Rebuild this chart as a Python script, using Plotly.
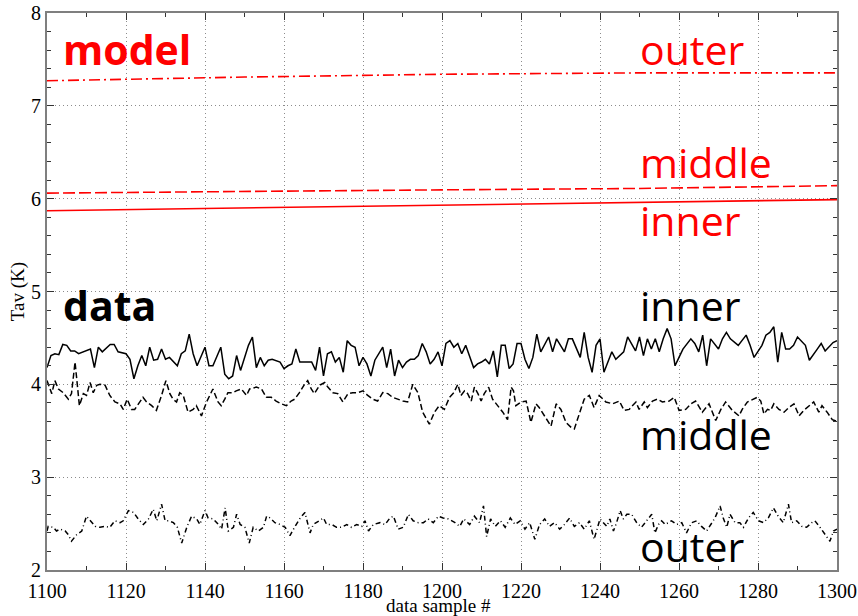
import plotly.graph_objects as go

# ---- data ----
model_x = [1100, 1150, 1200, 1250, 1300]
model_outer = [7.27, 7.31, 7.34, 7.355, 7.355]
model_middle = [6.06, 6.08, 6.095, 6.11, 6.14]
model_inner = [5.87, 5.90, 5.93, 5.955, 5.99]

inner_x = [1100, 1101, 1102, 1103, 1104, 1105, 1106, 1107, 1108, 1110, 1111, 1112, 1113, 1114, 1116, 1117, 1118,
           1120, 1121, 1122, 1123, 1124, 1125, 1126, 1127, 1128, 1129, 1130, 1131, 1133, 1134, 1135, 1136, 1137,
           1138, 1140, 1141, 1142, 1144, 1145, 1146, 1147, 1148, 1149, 1151, 1152, 1153, 1154, 1155, 1156, 1157,
           1159, 1160, 1161, 1162, 1163, 1164, 1165, 1167, 1168, 1169, 1170, 1171, 1172, 1173, 1174, 1175, 1176,
           1177, 1178, 1179, 1180, 1181, 1182, 1183, 1185, 1186, 1187, 1188, 1189, 1190, 1191, 1192, 1193, 1194,
           1195, 1196, 1197, 1198, 1199, 1200, 1201, 1202, 1203, 1204, 1205, 1206, 1208, 1209, 1210, 1211, 1212,
           1213, 1214, 1215, 1216, 1217, 1218, 1219, 1220, 1221, 1222, 1223, 1224, 1225, 1227, 1228, 1229, 1231,
           1232, 1233, 1235, 1236, 1237, 1238, 1239, 1240, 1241, 1243, 1244, 1246, 1247, 1249, 1250, 1251, 1252,
           1253, 1254, 1255, 1256, 1257, 1258, 1259, 1260, 1261, 1263, 1264, 1265, 1266, 1267, 1268, 1270, 1271,
           1272, 1273, 1275, 1277, 1278, 1279, 1281, 1282, 1283, 1284, 1285, 1286, 1287, 1288, 1289, 1290, 1292,
           1293, 1295, 1296, 1297, 1298, 1299, 1300]
inner_y = [4.18, 4.31, 4.33, 4.32, 4.43, 4.42, 4.36, 4.36, 4.33, 4.36, 4.38, 4.18, 4.40, 4.35, 4.43, 4.43, 4.35,
           4.33, 4.27, 4.06, 4.20, 4.31, 4.20, 4.40, 4.26, 4.27, 4.38, 4.27, 4.29, 4.20, 4.33, 4.36, 4.54, 4.33,
           4.20, 4.40, 4.20, 4.20, 4.40, 4.11, 4.06, 4.09, 4.31, 4.15, 4.42, 4.51, 4.18, 4.29, 4.20, 4.26, 4.27,
           4.24, 4.17, 4.20, 4.22, 4.38, 4.24, 4.24, 4.24, 4.15, 4.40, 4.09, 4.33, 4.35, 4.24, 4.29, 4.13, 4.47,
           4.42, 4.40, 4.20, 4.29, 4.22, 4.09, 4.26, 4.40, 4.18, 4.38, 4.09, 4.26, 4.18, 4.24, 4.27, 4.27, 4.31,
           4.44, 4.35, 4.22, 4.27, 4.35, 4.20, 4.44, 4.47, 4.40, 4.44, 4.33, 4.42, 4.18, 4.22, 4.24, 4.27, 4.22,
           4.36, 4.08, 4.42, 4.42, 4.17, 4.22, 4.44, 4.44, 4.27, 4.17, 4.29, 4.54, 4.35, 4.51, 4.35, 4.49, 4.35,
           4.49, 4.49, 4.29, 4.56, 4.29, 4.13, 4.42, 4.49, 4.13, 4.35, 4.27, 4.35, 4.51, 4.36, 4.51, 4.31, 4.49,
           4.38, 4.49, 4.35, 4.49, 4.60, 4.49, 4.20, 4.29, 4.38, 4.49, 4.44, 4.35, 4.53, 4.20, 4.49, 4.38, 4.49,
           4.56, 4.49, 4.42, 4.53, 4.42, 4.29, 4.42, 4.53, 4.56, 4.62, 4.24, 4.56, 4.38, 4.38, 4.42, 4.51, 4.42,
           4.26, 4.38, 4.44, 4.36, 4.40, 4.45, 4.47]

middle_x = [1100, 1100.3, 1101.2, 1102, 1102.9, 1104.1, 1105.4, 1106.2, 1107.1, 1108.2, 1109.2, 1110, 1110.9,
            1111.7, 1112.6, 1113.4, 1114.7, 1115.9, 1117.2, 1118.5, 1119.3, 1120.3, 1121.4, 1122.2, 1123.5,
            1124.3, 1125.2, 1126.5, 1127.7, 1129, 1130.1, 1131.1, 1131.9, 1132.8, 1133.6, 1134.5, 1135.7, 1137,
            1137.8, 1139.1, 1140.4, 1142, 1143.3, 1144.1, 1145, 1145.8, 1147.1, 1147.9, 1149.2, 1150.5, 1151.3,
            1153, 1154.3, 1155.5, 1156.8, 1158, 1159.3, 1160.6, 1161.8, 1162.7, 1163.9, 1165.2, 1166, 1166.9,
            1167.7, 1169, 1170.3, 1171.1, 1172.4, 1173.6, 1174.9, 1176.2, 1177.4, 1178.7, 1180, 1181.2, 1182.5,
            1183.7, 1185, 1186.3, 1187.5, 1188.8, 1190.1, 1191.3, 1192.6, 1193.9, 1195.1, 1196.8, 1198.1, 1199.3,
            1200.6, 1201.9, 1203, 1204, 1204.8, 1205.7, 1206.5, 1207.4, 1208.2, 1209.1, 1209.9, 1210.7, 1211.8,
            1212.8, 1214.1, 1215.4, 1216.6, 1217.5, 1218.1, 1218.7, 1220, 1221.3, 1222.5, 1223.8, 1224.6, 1225.9,
            1227.6, 1228.9, 1230.1, 1231.4, 1232.6, 1233.5, 1234.8, 1236, 1237.3, 1238.5, 1239.8, 1241.5, 1243.2,
            1244.9, 1246.1, 1247.4, 1248.2, 1249.1, 1249.9, 1251.2, 1252, 1253.3, 1254.5, 1255.8, 1257.5, 1258.8,
            1260, 1261.7, 1263, 1264.2, 1265.9, 1267.6, 1269.3, 1270.6, 1271.8, 1273.5, 1275.2, 1276, 1277.3,
            1278.6, 1279.8, 1280.7, 1281.5, 1282.4, 1283.2, 1284, 1285.3, 1286.6, 1287.8, 1289.1, 1290.4, 1291.6,
            1292.9, 1294.1, 1295.4, 1296.2, 1297.5, 1298.8, 1300]
middle_y = [4.04, 4.00, 3.90, 4.04, 3.95, 3.91, 3.84, 3.90, 4.24, 3.77, 3.90, 3.88, 4.02,
            3.91, 3.99, 4.00, 3.99, 3.88, 3.81, 3.79, 3.73, 3.84, 3.73, 3.73, 3.81,
            3.86, 3.81, 3.77, 3.72, 3.88, 4.04, 3.90, 3.84, 3.81, 3.91, 3.88, 3.70, 3.73,
            3.77, 3.66, 3.81, 3.95, 3.81, 3.77, 3.84, 3.91, 3.91, 3.93, 3.95, 3.88, 3.95,
            3.97, 3.95, 3.86, 3.86, 3.82, 3.79, 3.77, 3.82, 3.84, 3.91, 4.00, 4.04, 3.95,
            3.90, 3.99, 4.02, 3.97, 3.91, 3.90, 3.81, 3.90, 3.91, 3.91, 3.93, 3.88, 3.84,
            3.82, 3.91, 3.90, 3.86, 3.84, 3.82, 3.81, 4.00, 3.91, 3.70, 3.57, 3.70, 3.77,
            3.73, 3.86, 3.91, 4.00, 3.88, 3.93, 3.90, 3.82, 3.97, 3.90, 3.82, 3.90, 3.97,
            3.84, 3.77, 3.70, 3.62, 3.97, 3.93, 3.77, 3.81, 3.82, 3.59, 3.79, 3.75, 3.66,
            3.55, 3.79, 3.73, 3.59, 3.54, 3.52, 3.70, 3.84, 3.88, 3.75, 3.88, 3.81, 3.79,
            3.82, 3.72, 3.73, 3.77, 3.81, 3.73, 3.81, 3.75, 3.82, 3.84, 3.81, 3.82, 3.86,
            3.72, 3.73, 3.79, 3.82, 3.70, 3.79, 3.61, 3.73, 3.81, 3.72, 3.66, 3.73, 3.81,
            3.84, 3.86, 3.82, 3.68, 3.73, 3.72, 3.79, 3.73, 3.70, 3.75, 3.79, 3.66, 3.72,
            3.77, 3.81, 3.70, 3.77, 3.70, 3.62, 3.60]

outer_x = [1100, 1100.3, 1101.6, 1102.4, 1103.3, 1104.6, 1105.4, 1106.2, 1107.5, 1108.8, 1110, 1110.9, 1112.2,
           1113.4, 1114.7, 1115.9, 1117.2, 1118.5, 1119.3, 1120.6, 1121.9, 1123.1, 1124.4, 1125.7, 1126.9,
           1127.8, 1129, 1129.9, 1130.7, 1132, 1133, 1134.1, 1135.4, 1136.6, 1137.9, 1138.7, 1140, 1140.8,
           1142.1, 1143.4, 1144.2, 1145.1, 1145.9, 1147.2, 1148, 1148.9, 1150.1, 1151.2, 1152.2, 1153.5, 1154.8,
           1155.6, 1156.5, 1157.7, 1159, 1160.3, 1161.5, 1162.8, 1164.1, 1165.3, 1166.6, 1167.4, 1168.7, 1170,
           1170.8, 1172.1, 1173.3, 1174.6, 1175.9, 1177.1, 1178.4, 1179.7, 1180.5, 1181.4, 1182.6, 1184.3,
           1185.6, 1186.8, 1187.7, 1188.9, 1190.2, 1191.5, 1192.7, 1194, 1195.3, 1196.5, 1197.8, 1199.1, 1200.3,
           1201.6, 1203.3, 1204.5, 1205.5, 1207, 1208.2, 1209.5, 1210.5, 1211.3, 1212.3, 1213.5, 1214.8, 1216,
           1217.3, 1218.5, 1219.8, 1221, 1222.2, 1223.5, 1224.7, 1226, 1227.2, 1228.5, 1229.8, 1231, 1232.3,
           1233.5, 1234.8, 1236, 1237.3, 1238.5, 1240, 1240.8, 1241.7, 1242.5, 1243.4, 1244.2, 1245.1, 1245.9,
           1246.8, 1248, 1249.3, 1250.5, 1251.8, 1253.1, 1253.9, 1254.8, 1255.6, 1256.5, 1257.3, 1258.1, 1259.4,
           1260.7, 1261.9, 1263.2, 1264.5, 1265.7, 1267, 1268.3, 1269.1, 1270.4, 1271.2, 1272.1, 1272.9, 1274.2,
           1275.4, 1276.3, 1277.6, 1278.8, 1280.1, 1281.4, 1282.6, 1283.9, 1285.1, 1286.4, 1287.7, 1288.5,
           1289.8, 1291.1, 1292.3, 1293.6, 1294.4, 1295.7, 1297, 1298.2, 1299.1, 1300]
outer_y = [2.42, 2.47, 2.46, 2.42, 2.44, 2.42, 2.38, 2.31, 2.38, 2.42, 2.58, 2.53, 2.47,
           2.46, 2.47, 2.46, 2.53, 2.51, 2.53, 2.64, 2.62, 2.55, 2.49, 2.55, 2.655,
           2.53, 2.71, 2.53, 2.53, 2.51, 2.46, 2.29, 2.46, 2.58, 2.55, 2.49, 2.64, 2.56,
           2.55, 2.49, 2.44, 2.67, 2.42, 2.46, 2.60, 2.49, 2.46, 2.29, 2.46, 2.42, 2.46,
           2.58, 2.56, 2.51, 2.49, 2.46, 2.37, 2.47, 2.56, 2.62, 2.40, 2.49, 2.53, 2.56,
           2.49, 2.49, 2.46, 2.46, 2.49, 2.46, 2.49, 2.47, 2.53, 2.42, 2.49, 2.51,
           2.49, 2.56, 2.58, 2.44, 2.46, 2.60, 2.53, 2.51, 2.51, 2.55, 2.51, 2.58, 2.56,
           2.55, 2.51, 2.47, 2.55, 2.49, 2.58, 2.51, 2.69, 2.36, 2.55, 2.47, 2.53, 2.46,
           2.56, 2.49, 2.53, 2.44, 2.51, 2.33, 2.49, 2.55, 2.47, 2.51, 2.44, 2.49, 2.56,
           2.47, 2.51, 2.44, 2.53, 2.33, 2.55, 2.51, 2.47, 2.55, 2.42, 2.51, 2.64, 2.55,
           2.60, 2.60, 2.51, 2.46, 2.53, 2.60, 2.40, 2.49, 2.53, 2.49, 2.51, 2.53, 2.49,
           2.51, 2.40, 2.51, 2.53, 2.47, 2.42, 2.51, 2.56, 2.69, 2.56, 2.46, 2.60, 2.51,
           2.51, 2.46, 2.56, 2.62, 2.53, 2.51, 2.56, 2.67, 2.58, 2.51, 2.71, 2.51,
           2.53, 2.47, 2.46, 2.51, 2.53, 2.46, 2.38, 2.31, 2.42, 2.44]

x_ticks = [1100, 1120, 1140, 1160, 1180, 1200, 1220, 1240, 1260, 1280, 1300]
y_ticks = [2, 3, 4, 5, 6, 7, 8]

labels_model = ["outer", "middle", "inner"]
labels_model_y = [7.61, 6.39, 5.77]
labels_data = ["inner", "middle", "outer"]
labels_data_y = [4.85, 3.46, 2.26]

RED = "#ff0000"
BLACK = "#000000"

fig = go.Figure()
fig.add_trace(go.Scatter(x=model_x, y=model_outer, mode="lines",
                         line=dict(color=RED, width=1.6, dash="11px,4px,2px,4px")))
fig.add_trace(go.Scatter(x=model_x, y=model_middle, mode="lines",
                         line=dict(color=RED, width=1.6, dash="12px,4px")))
fig.add_trace(go.Scatter(x=model_x, y=model_inner, mode="lines",
                         line=dict(color=RED, width=1.6)))
fig.add_trace(go.Scatter(x=inner_x, y=inner_y, mode="lines",
                         line=dict(color=BLACK, width=1.5)))
fig.add_trace(go.Scatter(x=middle_x, y=middle_y, mode="lines",
                         line=dict(color=BLACK, width=1.5, dash="6px,3px")))
fig.add_trace(go.Scatter(x=outer_x, y=outer_y, mode="lines",
                         line=dict(color=BLACK, width=1.5, dash="5px,3px,1px,3px")))

serif = "Liberation Serif"
sans = "Open Sans"

axis_common = dict(
    automargin=False,
    showline=True, linecolor="#7f7f7f", linewidth=2, mirror="ticks",
    ticks="inside", ticklen=7, tickwidth=1, tickcolor="#333333",
    showgrid=True, gridcolor="#8c8c8c", griddash="1px,3px", gridwidth=1,
    zeroline=False, ticklabeloverflow="allow",
    tickfont=dict(family=serif, size=20, color="black"),
)

fig.update_xaxes(range=[1100, 1300], tickvals=x_ticks, ticktext=[str(v) for v in x_ticks],
                 ticklabelstandoff=2,
                 minor=dict(dtick=10, tick0=1100, ticks="inside", ticklen=4, tickcolor="#333333", showgrid=False),
                 **axis_common)
fig.update_yaxes(range=[2, 8], tickvals=y_ticks, ticktext=[str(v) for v in y_ticks],
                 minor=dict(dtick=0.2, tick0=2, ticks="inside", ticklen=4, tickcolor="#333333", showgrid=False),
                 **axis_common)

annotations = []
annotations.append(dict(x=1103.5, y=7.61, xref="x", yref="y", text="<b>model</b>", showarrow=False,
                        xanchor="left", yanchor="middle", font=dict(family=sans, size=41, color=RED)))
annotations.append(dict(x=1103.5, y=4.86, xref="x", yref="y", text="<b>data</b>", showarrow=False,
                        xanchor="left", yanchor="middle", font=dict(family=sans, size=41, color=BLACK)))
for t, yv in zip(labels_model, labels_model_y):
    annotations.append(dict(x=1249.5, y=yv, xref="x", yref="y", text=t, showarrow=False,
                            xanchor="left", yanchor="middle", font=dict(family=sans, size=41, color=RED)))
for t, yv in zip(labels_data, labels_data_y):
    annotations.append(dict(x=1249.5, y=yv, xref="x", yref="y", text=t, showarrow=False,
                            xanchor="left", yanchor="middle", font=dict(family=sans, size=41, color=BLACK)))
annotations.append(dict(x=0.495, y=-0.064, xref="paper", yref="paper", text="data sample #", showarrow=False,
                        xanchor="center", yanchor="middle", font=dict(family=serif, size=19, color="black")))
annotations.append(dict(x=-0.037, y=0.5, xref="paper", yref="paper", text="Tav (K)", showarrow=False,
                        textangle=-90, xanchor="center", yanchor="middle",
                        font=dict(family=serif, size=19, color="black")))

fig.update_layout(
    width=858, height=616,
    margin=dict(l=47, r=21, t=13, b=46),
    plot_bgcolor="white", paper_bgcolor="white",
    showlegend=False,
    annotations=annotations,
)

# remove the default 8px page margin so the figure fills the window exactly
fig.write_html("out.html", config={"displayModeBar": False},
               post_script="document.body.style.margin='0px';")
